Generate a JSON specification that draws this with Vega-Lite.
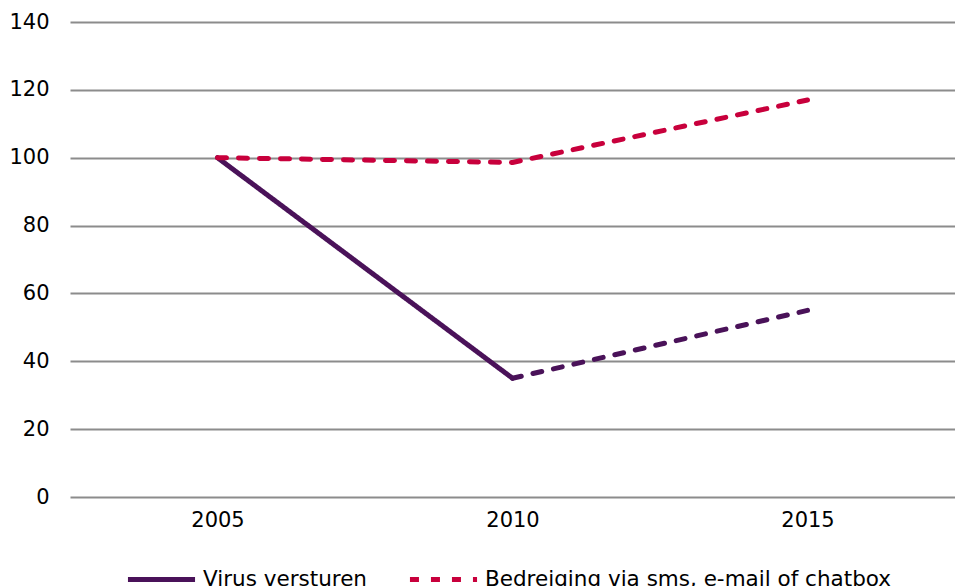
{
  "$schema": "https://vega.github.io/schema/vega-lite/v6.json",
  "width": 885,
  "height": 475,
  "autosize": {"type": "none"},
  "padding": {"left": 70, "top": 22, "right": 0, "bottom": 89},
  "background": "white",
  "config": {
    "view": {"stroke": null},
    "font": "DejaVu Sans"
  },
  "data": {
    "values": [
      {"year": "2005", "key": "Virus versturen", "value": 100},
      {"year": "2010", "key": "Virus versturen", "value": 35},
      {"year": "2010", "key": "Virus versturen (raming)", "value": 35},
      {"year": "2015", "key": "Virus versturen (raming)", "value": 55},
      {"year": "2005", "key": "Bedreiging via sms, e-mail of chatbox", "value": 100},
      {"year": "2010", "key": "Bedreiging via sms, e-mail of chatbox", "value": 98.6},
      {"year": "2015", "key": "Bedreiging via sms, e-mail of chatbox", "value": 117}
    ]
  },
  "mark": {"type": "line", "strokeWidth": 5, "strokeCap": "round", "strokeJoin": "round"},
  "encoding": {
    "x": {
      "field": "year",
      "type": "ordinal",
      "scale": {"padding": 0.5},
      "axis": {
        "title": null,
        "labelAngle": 0,
        "labelFontSize": 21,
        "labelColor": "#000000",
        "labelPadding": 12,
        "ticks": false,
        "domain": false
      }
    },
    "y": {
      "field": "value",
      "type": "quantitative",
      "scale": {"domain": [0, 140], "nice": false},
      "axis": {
        "title": null,
        "values": [0, 20, 40, 60, 80, 100, 120, 140],
        "labelFontSize": 21,
        "labelColor": "#000000",
        "labelPadding": 21,
        "ticks": false,
        "domain": false,
        "gridColor": "#8c8c8c",
        "gridWidth": 2,
        "gridOpacity": 1
      }
    },
    "color": {
      "field": "key",
      "type": "nominal",
      "scale": {
        "domain": ["Virus versturen", "Bedreiging via sms, e-mail of chatbox", "Virus versturen (raming)"],
        "range": ["#4a1259", "#c8003c", "#4a1259"]
      },
      "legend": {
        "title": null,
        "orient": "none",
        "direction": "horizontal",
        "legendX": 55,
        "legendY": 521,
        "values": ["Virus versturen", "Bedreiging via sms, e-mail of chatbox"],
        "symbolType": "stroke",
        "symbolSize": 4500,
        "symbolStrokeWidth": 5,
        "labelFontSize": 21.5,
        "labelColor": "#000000",
        "labelOffset": 5,
        "columnPadding": 32,
        "labelLimit": 500
      }
    },
    "strokeDash": {
      "field": "key",
      "type": "nominal",
      "scale": {
        "domain": ["Virus versturen", "Bedreiging via sms, e-mail of chatbox", "Virus versturen (raming)"],
        "range": [[1, 0], [9, 12], [9, 12]]
      }
    }
  }
}
